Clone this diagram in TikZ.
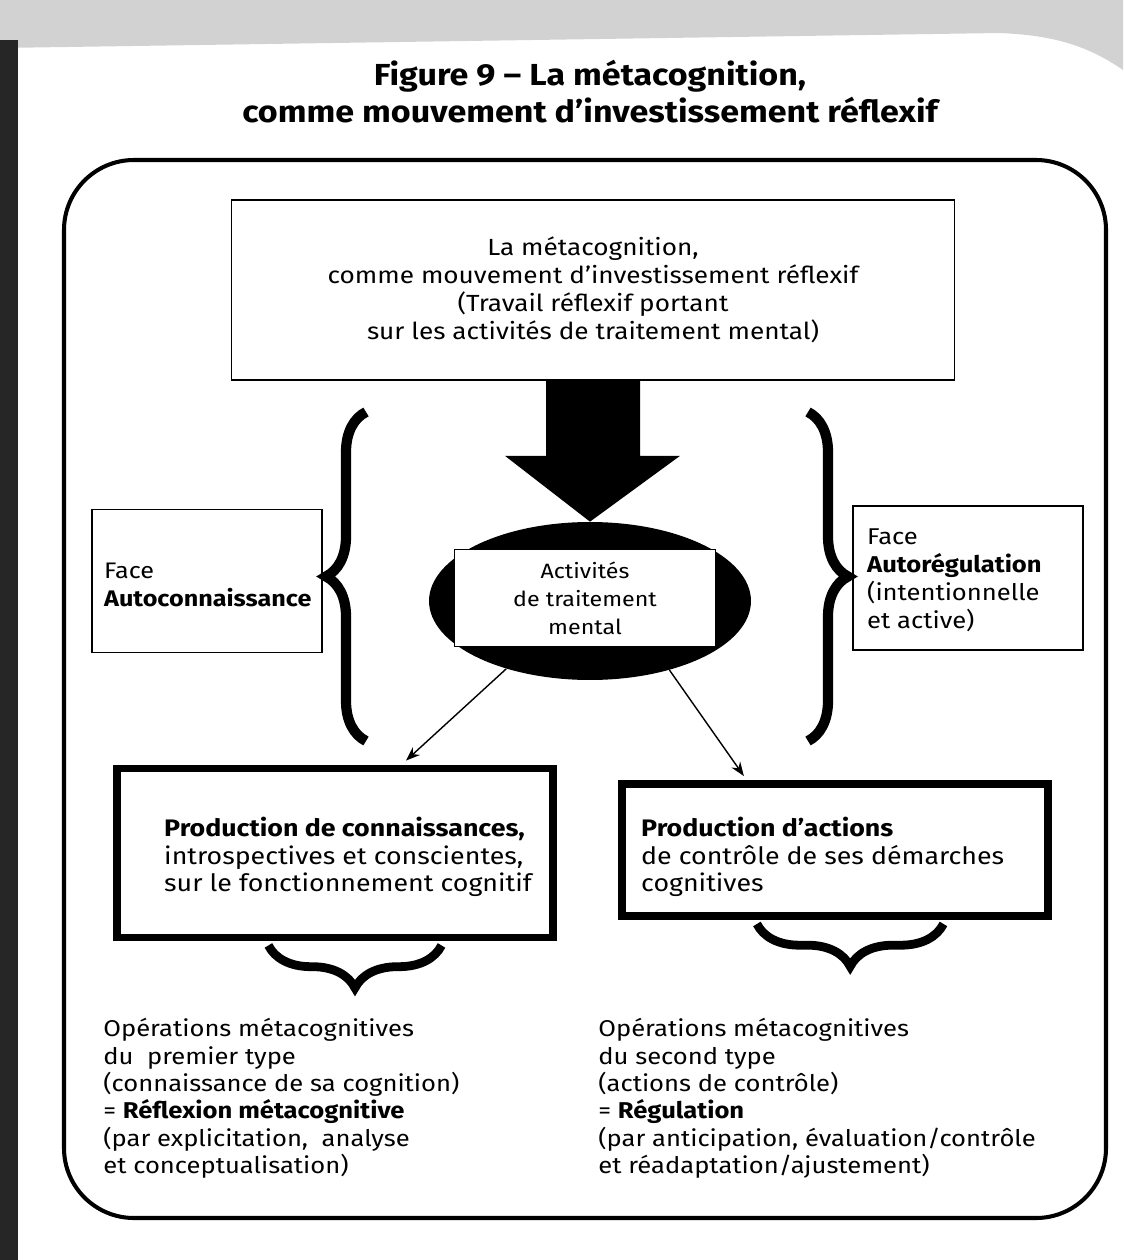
\documentclass[tikz,border=0pt]{standalone}
\usepackage{fontspec}
\setmainfont{Fira Sans}[FakeStretch=1.12]
\usetikzlibrary{decorations.pathreplacing,arrows.meta,calc,shapes.geometric}
\begin{document}
\begin{tikzpicture}[x=0.02cm,y=-0.02cm,
  thinbox/.style={draw,line width=1pt,rectangle,inner sep=0pt},
  heavybox/.style={draw,line width=4.5pt,rectangle,inner sep=0pt},
  bigbrace/.style={decorate,decoration={brace,amplitude=0.8cm},line width=5.8pt},
  smallbrace/.style={decorate,decoration={brace,amplitude=0.85cm},line width=5pt},
  thinarrow/.style={-{Stealth[length=8pt,width=6pt]},line width=0.8pt},
  lowtxt/.style={font=\fontsize{13}{15.6}\selectfont,align=left,anchor=north west,inner sep=0pt},
  ]
\useasboundingbox (0,0) rectangle (1123,1260);
% scan edges
\fill[gray!35] (0,0) -- (1123,0) -- (1123,70) .. controls (1080,40) and (1040,35) .. (1000,33) -- (0,48) -- cycle;
\fill[black!85] (0,40) rectangle (18,1260);

% title
\node[font=\fontsize{17.3}{21}\selectfont\bfseries,align=center] (title) at (590,92)
  {Figure 9 – La métacognition,\\comme mouvement d’investissement réflexif};

% outer frame
\draw[line width=2.3pt,rounded corners=1.4cm] (64,160) rectangle (1106,1218);

% top box
\node[thinbox,minimum width=14.46cm,minimum height=3.6cm,align=center,font=\fontsize{13.3}{16}\selectfont] (top) at (593,290)
  {La métacognition,\\comme mouvement d’investissement réflexif\\(Travail réflexif portant\\sur les activités de traitement mental)};

% ellipse and inner box
\node[ellipse,fill=black,minimum width=6.44cm,minimum height=3.16cm,inner sep=0pt] (ell) at (590,601) {};
\node[thinbox,fill=white,minimum width=5.22cm,minimum height=1.94cm,align=center,font=\fontsize{11.8}{16}\selectfont] (act) at (585,598)
  {Activités\\de traitement\\mental};

% big arrow
\fill ($(top.south)+(-47,0)$) -- ($(top.south)+(47,0)$) -- ($(top.south)+(47,75)$) -- ($(top.south)+(87,75)$)
  -- (ell.north) -- ($(top.south)+(-88,75)$) -- ($(top.south)+(-47,75)$) -- cycle;

% face boxes
\node[thinbox,minimum width=4.6cm,minimum height=2.86cm] (faceL) at (207,581) {};
\node[anchor=west,align=left,font=\fontsize{12.8}{15.5}\selectfont] (faceLt) at (98,585) {Face\\\textbf{Autoconnaissance}};
\node[thinbox,minimum width=4.6cm,minimum height=2.88cm] (faceR) at (968,578) {};
\node[anchor=west,align=left,font=\fontsize{13}{16}\selectfont] (faceRt) at (861,580) {Face\\\textbf{Autorégulation}\\(intentionnelle\\et active)};

% big braces
\draw[bigbrace] (366,741) -- (366,412);
\draw[bigbrace] (808,412) -- (808,741);

% production boxes
\node[heavybox,minimum width=8.72cm,minimum height=3.38cm] (bl) at (335,853) {};
\node[anchor=west,align=left,font=\fontsize{13.6}{15.5}\selectfont] (blt) at (158,857)
  {\textbf{Production de connaissances,}\\introspectives et conscientes,\\sur le fonctionnement cognitif};
\node[heavybox,minimum width=8.52cm,minimum height=2.64cm] (br) at (835,850) {};
\node[anchor=west,align=left,font=\fontsize{13.6}{15.5}\selectfont] (brt) at (635,857)
  {\textbf{Production d’actions}\\de contrôle de ses démarches\\cognitives};

% arrows
\draw[thinarrow] (ell.219) -- ($(bl.north west)!0.66!(bl.north east)+(0,-4)$);
\draw[thinarrow] (ell.319) -- ($(br.north west)!0.29!(br.north east)+(0,-4)$);

% small braces
\draw[smallbrace] ($(bl.south west)!0.74!(bl.south east)+(0,4)$) coordinate (blb1) -- ($(bl.south west)!0.35!(bl.south east)+(0,4)$) coordinate (blb2);
\draw[smallbrace] ($(br.south west)!0.75!(br.south east)+(0,4)$) coordinate (brb1) -- ($(br.south west)!0.32!(br.south east)+(0,4)$) coordinate (brb2);

% bottom texts
\node[lowtxt] (opL) at (103,1018)
  {Opérations métacognitives\\du\ \ premier type\\(connaissance de sa cognition)\\= \textbf{Réflexion métacognitive}\\(par explicitation,\ \ analyse\\et conceptualisation)};
\node[lowtxt] (opR) at (598,1018)
  {Opérations métacognitives\\du second type\\(actions de contrôle)\\= \textbf{Régulation}\\(par anticipation, évaluation/contrôle\\et réadaptation/ajustement)};
\end{tikzpicture}
\end{document}
